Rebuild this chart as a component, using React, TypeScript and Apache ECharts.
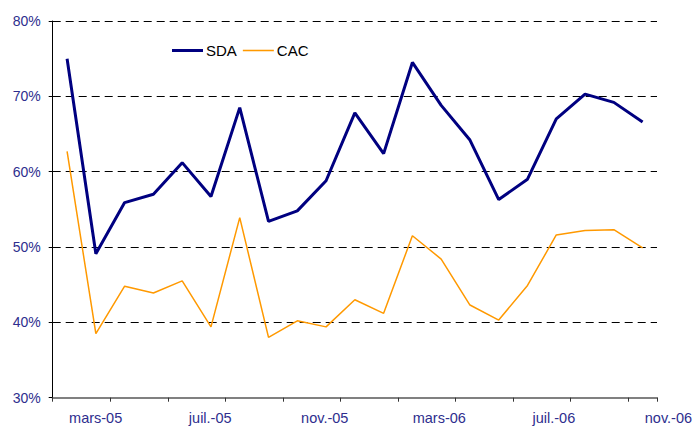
import React, { useEffect, useRef } from "react";
import * as echarts from "echarts";

const months = [
  "févr.-05", "mars-05", "avr.-05", "mai-05", "juin-05", "juil.-05", "août-05", "sept.-05",
  "oct.-05", "nov.-05", "déc.-05", "janv.-06", "févr.-06", "mars-06", "avr.-06", "mai-06",
  "juin-06", "juil.-06", "août-06", "sept.-06", "oct.-06", "nov.-06",
];
const dataMonths = months.slice(0, 21);

const sda = [75.0, 49.1, 55.9, 57.0, 61.2, 56.7, 68.5, 53.4, 54.8, 58.8, 67.8, 62.4, 74.5, 68.8, 64.2, 56.3, 59.0, 67.0, 70.3, 69.2, 66.6];
const cac = [62.7, 38.5, 44.8, 43.9, 45.5, 39.4, 53.9, 38.0, 40.2, 39.4, 43.0, 41.2, 51.5, 48.4, 42.3, 40.3, 44.9, 51.6, 52.2, 52.3, 49.9];

const yTicks = { min: 30, max: 80, interval: 10 };

const FONT = "Liberation Sans, Arial, sans-serif";
const LABEL_COLOR = "#2E2E8E";
const SDA_COLOR = "#000080";
const CAC_COLOR = "#FF9900";

export default function App() {
  const ref = useRef<HTMLDivElement>(null);
  useEffect(() => {
    if (!ref.current) return;
    const chart = echarts.init(ref.current, undefined, { renderer: "svg" });
    const plotLeft = 52.7;
    const plotRight = 657;
    const catW = (plotRight - plotLeft) / dataMonths.length;
    const right2 = 695 - (plotLeft + catW * months.length);
    chart.setOption({
      animation: false,
      backgroundColor: "#ffffff",
      textStyle: { fontFamily: FONT },
      legend: {
        left: 167,
        top: 38,
        itemWidth: 31,
        itemHeight: 14,
        itemGap: 6,
        textStyle: { fontFamily: FONT, fontSize: 15, color: "#000", padding: [0, 0, 0, -2] },
        data: [
          { name: "SDA", icon: "path://M0,0h31v3h-31z", itemStyle: { color: SDA_COLOR } },
          { name: "CAC", icon: "path://M0,0h30v1.5h-30z", itemStyle: { color: CAC_COLOR } },
        ],
      },
      grid: [
        { left: plotLeft, right: 695 - plotRight, top: 21, bottom: 31.3, containLabel: false },
        { left: plotLeft, right: right2, top: 21, bottom: 31.3, containLabel: false },
      ],
      xAxis: [
        {
          type: "category",
          gridIndex: 0,
          data: dataMonths,
          boundaryGap: true,
          axisLine: { show: true, lineStyle: { color: "#808080", width: 2 } },
          axisTick: { show: true, interval: 1, length: 4, lineStyle: { color: "#333", width: 1 } },
          axisLabel: { show: false },
          splitLine: { show: false },
        },
        {
          type: "category",
          gridIndex: 1,
          data: months,
          boundaryGap: true,
          axisLine: { show: false },
          axisTick: { show: false },
          axisLabel: {
            show: true,
            interval: (i: number) => i % 4 === 1,
            margin: 13,
            fontFamily: FONT,
            fontSize: 14.5,
            color: LABEL_COLOR,
          },
          splitLine: { show: false },
        },
      ],
      yAxis: [
        {
          type: "value",
          gridIndex: 0,
          min: yTicks.min,
          max: yTicks.max,
          interval: yTicks.interval,
          axisLine: { show: true, lineStyle: { color: "#000", width: 1 } },
          axisTick: { show: true, length: 4, lineStyle: { color: "#000" } },
          axisLabel: {
            formatter: "{value}%",
            margin: 12,
            fontFamily: FONT,
            fontSize: 14,
            color: LABEL_COLOR,
          },
          splitLine: { show: true, lineStyle: { color: "#000", type: [8, 5], width: 1 } },
        },
        { type: "value", gridIndex: 1, min: 0, max: 1, show: false },
      ],
      series: [
        {
          name: "SDA",
          type: "line",
          xAxisIndex: 0,
          yAxisIndex: 0,
          data: sda,
          symbol: "none",
          lineStyle: { color: SDA_COLOR, width: 3 },
          itemStyle: { color: SDA_COLOR },
        },
        {
          name: "CAC",
          type: "line",
          xAxisIndex: 0,
          yAxisIndex: 0,
          data: cac,
          symbol: "none",
          lineStyle: { color: CAC_COLOR, width: 1.5 },
          itemStyle: { color: CAC_COLOR },
        },
      ],
    });
    return () => chart.dispose();
  }, []);
  return (
    <div
      ref={ref}
      style={{ width: 695, height: 429, position: "absolute", left: 0, top: 0 }}
    />
  );
}
